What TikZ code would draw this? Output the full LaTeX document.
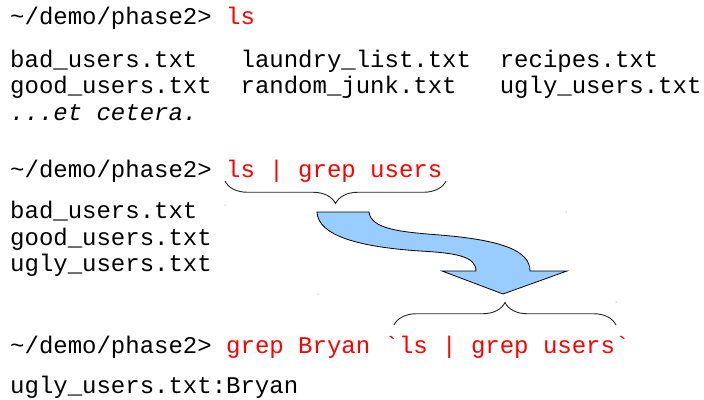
\documentclass[tikz,border=0pt]{standalone}
\usepackage{fontspec}
\setmonofont{Liberation Mono}
\usetikzlibrary{decorations.pathreplacing}
\definecolor{cmdred}{RGB}{255,0,0}
\definecolor{arrowblue}{RGB}{153,204,255}
\begin{document}
\begin{tikzpicture}[x=1pt,y=-1pt,
  txt/.style={anchor=base west,inner sep=0pt,font=\ttfamily\fontsize{24}{27}\selectfont},
  bracestyle/.style={draw=black!85,line width=0.9pt,decorate,decoration={brace,amplitude=22.5pt}},
  bigarrow/.style={draw=black,line width=0.8pt,fill=arrowblue},
  speck/.style={fill=black!50,inner sep=0pt,minimum size=1pt,circle}]
\useasboundingbox (0,0) rectangle (704,399);
\fill[white] (0,0) rectangle (704,399);
% first command
\node[txt] (p1) at (10,24) {\textasciitilde/demo/phase2> \textcolor{cmdred}{ls}};
\node[txt] (f11) at (10,67) {bad\_users.txt};
\node[txt] (f12) at (240.4,67) {laundry\_list.txt};
\node[txt] (f13) at (499.6,67) {recipes.txt};
\node[txt] (f21) at (10,93) {good\_users.txt};
\node[txt] (f22) at (240.4,93) {random\_junk.txt};
\node[txt] (f23) at (499.6,93) {ugly\_users.txt};
\node[txt] (etc) at (10,120) {\itshape ...et cetera.};
% second command
\node[txt] (p2) at (10,177) {\textasciitilde/demo/phase2> \textcolor{cmdred}{ls | grep users}};
\node[txt] (g1) at (10,218) {bad\_users.txt};
\node[txt] (g2) at (10,245) {good\_users.txt};
\node[txt] (g3) at (10,271) {ugly\_users.txt};
% third command
\node[txt] (p3) at (10,353) {\textasciitilde/demo/phase2> \textcolor{cmdred}{grep Bryan \char"60 ls | grep users\char"60}};
\node[txt] (res) at (10,393) {ugly\_users.txt:Bryan};
% braces
\coordinate (b1r) at (446,181);
\coordinate (b1l) at (225,181);
\draw[bracestyle] (b1r) -- (b1l);
\coordinate (b2l) at (394,325);
\coordinate (b2r) at (616,325);
\draw[bracestyle] (b2l) -- (b2r);
% big curved arrow
\draw[bigarrow] (317,212) -- (369,212)
  .. controls (371,229) and (400,232) .. (440,235)
  .. controls (500,240) and (530,250) .. (530,271)
  -- (567,271) -- (503,294) -- (442,271) -- (476,271)
  .. controls (476,256) and (455,253) .. (420,251)
  .. controls (360,247) and (318,236) .. (317,212) -- cycle;
% specks
\node[speck] (s1) at (225,205) {};
\node[speck] (s2) at (566,212) {};
\node[speck] (s3) at (318,294) {};
\node[speck] (s4) at (616,302) {};
\end{tikzpicture}
\end{document}
